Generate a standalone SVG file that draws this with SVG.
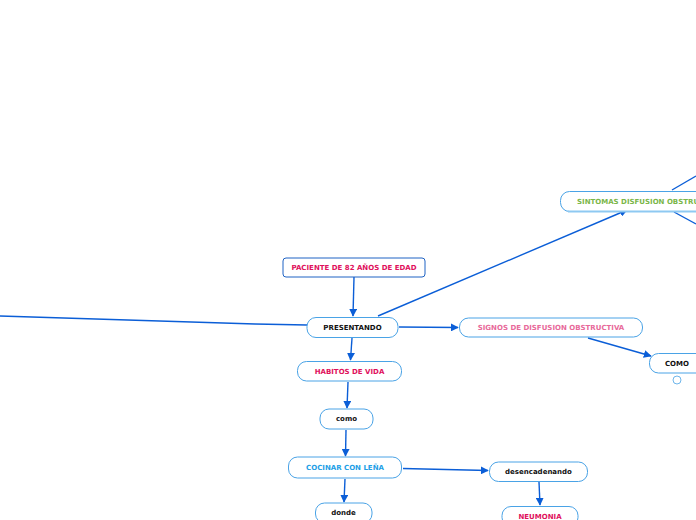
<svg xmlns="http://www.w3.org/2000/svg" width="696" height="520" viewBox="0 0 696 520">
<defs>
<marker id="ah" viewBox="0 0 10 10" refX="9" refY="5" markerWidth="8" markerHeight="8" markerUnits="userSpaceOnUse" orient="auto">
<path d="M0,0 L10,5 L0,10 z" fill="#0b5ed7"/>
</marker>
<style>
.n{fill:#fff;stroke:#4aa3e6;stroke-width:1}
.t{font-family:"DejaVu Sans",Verdana,sans-serif;font-weight:bold;font-size:7px;text-anchor:middle;dominant-baseline:central}
.c{fill:none;stroke:#0b5ed7;stroke-width:1.4}
.a{marker-end:url(#ah)}
</style>
</defs>
<rect width="696" height="520" fill="#fff"/>
<g id="connectors">
<path class="c a" d="M354,277 L353,316"/>
<path class="c" d="M307,325 L255,324 L0,316"/>
<path class="c a" d="M378,316 L627,210"/>
<path class="c" d="M672,190 L696,176"/>
<path class="c" d="M674,212 L696,224"/>
<path class="c a" d="M399,327 L458,327.5"/>
<path class="c a" d="M588,338 L651,356"/>
<path class="c a" d="M352,338 L350.5,360"/>
<path class="c a" d="M348,382 L347,408"/>
<path class="c a" d="M346,430 L345.5,456"/>
<path class="c a" d="M403,468.5 L488,470.5"/>
<path class="c a" d="M539,482 L540,505"/>
<path class="c a" d="M345,479 L344,502"/>
</g>
<g id="paciente">
<rect x="283" y="258" width="142" height="19" rx="3" fill="#fff" stroke="#1f63c4" stroke-width="1"/>
<text class="t" x="354" y="267.5" fill="#e0105c">PACIENTE DE 82 AÑOS DE EDAD</text>
</g>
<g id="presentando">
<rect class="n" x="307" y="317.5" width="91" height="20" rx="9"/>
<text class="t" x="352.5" y="327.5" fill="#111">PRESENTANDO</text>
</g>
<g id="sintomas">
<rect class="n" x="560.5" y="191.5" width="150" height="20" rx="9"/>
<path d="M568,211.5 L696,211.5" stroke="#8ec9f2" stroke-width="2"/>
<text class="t" x="577" y="201.5" fill="#7ab648" style="text-anchor:start">SINTOMAS DISFUSION OBSTRUCTIVA</text>
</g>
<g id="signos">
<rect class="n" x="459.5" y="318" width="183" height="19" rx="9"/>
<text class="t" x="551" y="327.5" fill="#e8699a">SIGNOS DE DISFUSION OBSTRUCTIVA</text>
</g>
<g id="como-upper">
<rect class="n" x="649.5" y="353.5" width="60" height="19.5" rx="9"/>
<text class="t" x="677" y="363.5" fill="#111">COMO</text>
<circle cx="677" cy="380" r="4" fill="#fff" stroke="#4aa3e6" stroke-width="0.8"/>
</g>
<g id="habitos">
<rect class="n" x="297.5" y="361.5" width="104" height="19.5" rx="9"/>
<text class="t" x="349.5" y="371.5" fill="#e0105c">HABITOS DE VIDA</text>
</g>
<g id="como">
<rect class="n" x="320" y="409" width="53" height="20" rx="9"/>
<text class="t" x="346.5" y="419" fill="#111">como</text>
</g>
<g id="cocinar">
<rect class="n" x="288.5" y="457" width="113" height="21" rx="9"/>
<text class="t" x="345" y="468" fill="#1ea0e6">COCINAR CON LEÑA</text>
</g>
<g id="desencadenando">
<rect class="n" x="489.5" y="462" width="98" height="19.5" rx="9"/>
<text class="t" x="538.5" y="471.5" fill="#111">desencadenando</text>
</g>
<g id="neumonia">
<rect class="n" x="502" y="506.5" width="76" height="20" rx="9"/>
<text class="t" x="540" y="516.5" fill="#e0105c">NEUMONIA</text>
</g>
<g id="donde">
<rect class="n" x="315.5" y="503" width="56.5" height="20" rx="9"/>
<text class="t" x="343.5" y="512.5" fill="#111">donde</text>
</g>
</svg>
